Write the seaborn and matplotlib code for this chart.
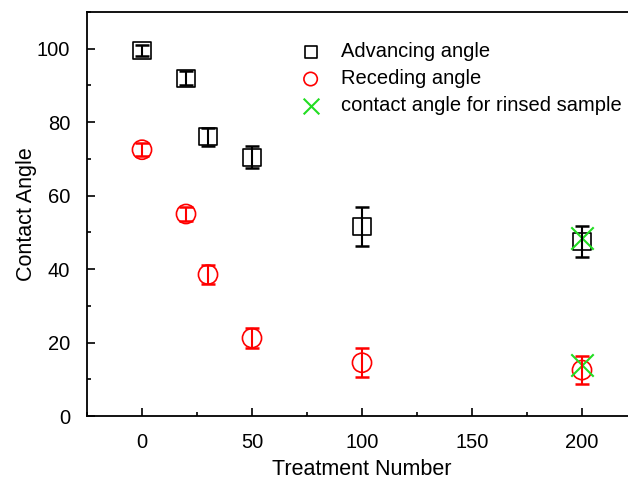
import matplotlib
matplotlib.use("Agg")
import matplotlib.pyplot as plt
from matplotlib.ticker import MultipleLocator
import seaborn as sns
import pandas as pd

treatment = [0, 20, 30, 50, 100, 200]
advancing = [99.5, 92.0, 76.0, 70.5, 51.5, 47.5]
advancing_err = [1.5, 1.8, 2.5, 3.0, 5.3, 4.3]
receding = [72.5, 55.0, 38.5, 21.2, 14.5, 12.5]
receding_err = [1.8, 1.8, 2.5, 2.8, 4.0, 3.8]
rinsed_x = [200, 200]
rinsed = [48.5, 14.0]

sns.set_style("ticks")
plt.rcParams['font.family'] = ['Liberation Sans', 'DejaVu Sans']
plt.rcParams['text.color'] = 'black'
plt.rcParams['axes.labelcolor'] = 'black'
plt.rcParams['xtick.color'] = 'black'
plt.rcParams['ytick.color'] = 'black'
plt.rcParams['axes.edgecolor'] = 'black'

adv = pd.DataFrame({"x": treatment, "y": advancing})
rec = pd.DataFrame({"x": treatment, "y": receding})
rin = pd.DataFrame({"x": rinsed_x, "y": rinsed})

fig = plt.figure(figsize=(6.28, 4.82), dpi=100)
ax = fig.add_axes([87 / 628, 66 / 482, 550 / 628, 404 / 482])

# error bars first, markers on top
ax.errorbar(treatment, advancing, yerr=advancing_err, fmt="none", ecolor="black",
            elinewidth=1.5, capsize=5, capthick=1.8)
ax.errorbar(treatment, receding, yerr=receding_err, fmt="none", ecolor="red",
            elinewidth=1.5, capsize=5, capthick=1.8)

sns.scatterplot(data=adv, x="x", y="y", marker="s", s=150, facecolor="none",
                edgecolor="black", linewidth=1.2, label="Advancing angle", ax=ax)
sns.scatterplot(data=rec, x="x", y="y", marker="o", s=190, facecolor="none",
                edgecolor="red", linewidth=1.2, label="Receding angle", ax=ax)
sns.scatterplot(data=rin, x="x", y="y", marker="x", s=260, color="#22dd22",
                linewidth=1.5, label="contact angle for rinsed sample", ax=ax)

ax.set_xlim(-25, 225)
ax.set_ylim(0, 110)
ax.xaxis.set_major_locator(MultipleLocator(50))
ax.xaxis.set_minor_locator(MultipleLocator(25))
ax.yaxis.set_major_locator(MultipleLocator(20))
ax.yaxis.set_minor_locator(MultipleLocator(10))
ax.tick_params(which="major", direction="in", length=6, width=1.2, labelsize=14.5, pad=12)
ax.tick_params(which="minor", direction="in", length=3, width=1.2)
ax.tick_params(axis="y", which="both", right=False)
ax.tick_params(axis="x", which="both", top=False)
for sp in ax.spines.values():
    sp.set_linewidth(1.3)
    sp.set_visible(True)

ax.set_xlabel("Treatment Number", fontsize=15.5, labelpad=5)
ax.set_ylabel("Contact Angle", fontsize=15.5, labelpad=0)

ax.legend(loc="upper left", bbox_to_anchor=(0.337, 0.97), frameon=False, fontsize=14.5,
          handletextpad=0.5, labelspacing=0.4, markerscale=0.7)

fig.savefig("out.png", dpi=100)
